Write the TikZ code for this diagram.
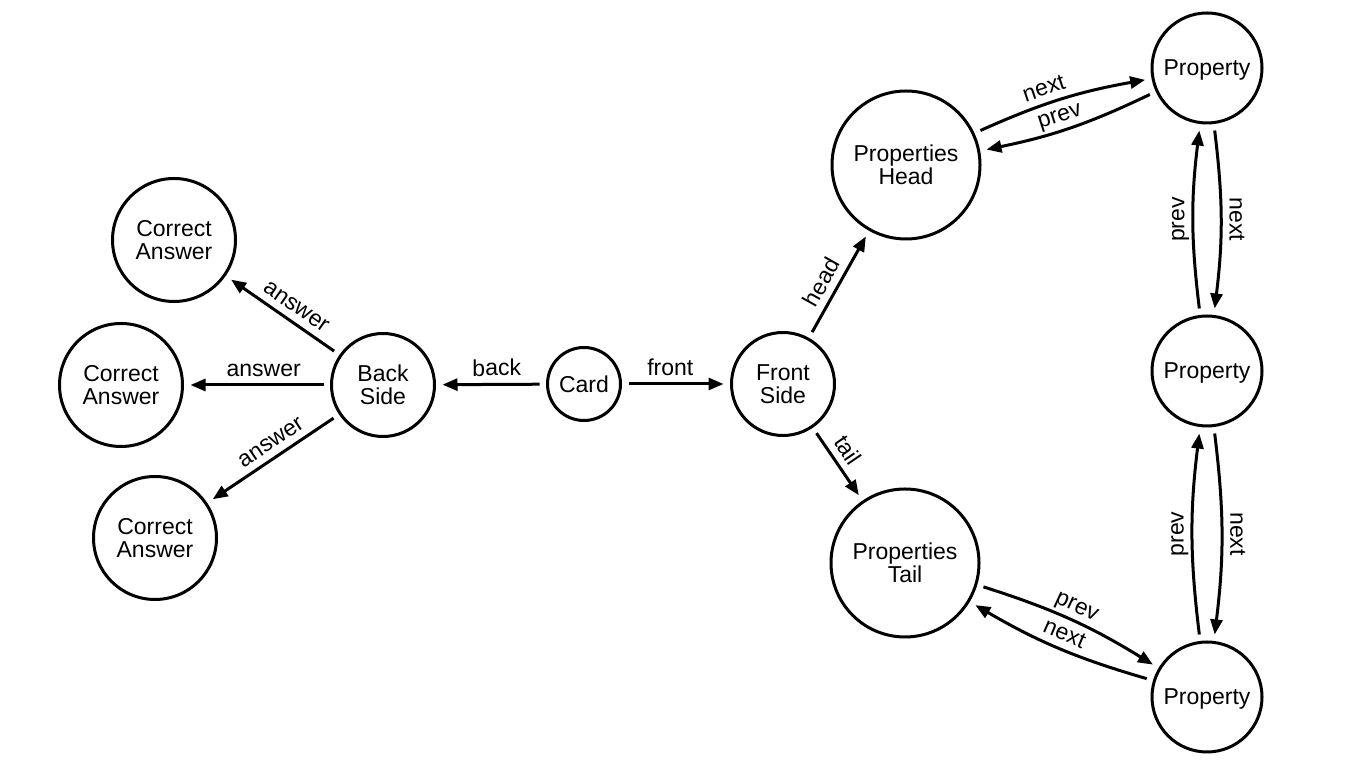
\documentclass[tikz,border=0pt]{standalone}
\usepackage{fontspec}
\setmainfont{Liberation Sans}
\usetikzlibrary{arrows.meta}
\begin{document}
\begin{tikzpicture}[x=0.5pt,y=0.5pt,
  every node/.style={font=\fontsize{11.5pt}{11.5pt}\selectfont},
  ent/.style={circle, draw, line width=1.5pt, inner sep=0pt, outer sep=4pt, align=center, text depth=0pt},
  cardbox/.style={ent, minimum size=36.5pt},
  side/.style={ent, minimum size=51.5pt},
  ans/.style={ent, minimum size=61.5pt},
  big/.style={ent, minimum size=74pt},
  prop/.style={ent, minimum size=55pt},
  rel/.style={line width=1.5pt, -{Triangle[length=7.5pt,width=6pt]}},
  lab/.style={sloped, above, inner sep=3.5pt, text depth=0pt},
  vlab/.style={anchor=south, inner sep=3.5pt, text depth=0pt},
]
\useasboundingbox (0,0) rectangle (1361,765);
\node[cardbox] (card) at (584,381) {Card};
\node[side] (front) at (783,381) {Front\\Side};
\node[side] (back) at (383,380) {Back\\Side};
\node[ans] (ca1) at (174,525) {Correct\\Answer};
\node[ans] (ca2) at (121,380) {Correct\\Answer};
\node[ans] (ca3) at (155,227) {Correct\\Answer};
\node[big] (head) at (906,600) {Properties\\Head};
\node[big] (tail) at (905,202) {Properties\\Tail};
\node[prop] (p1) at (1207,697) {Property};
\node[prop] (p2) at (1207,394) {Property};
\node[prop] (p3) at (1207,68) {Property};

\draw[rel] (card) -- node[lab,pos=0.44]{front} (front);
\draw[rel] (card) -- node[lab,pos=0.44]{back} (back);
\draw[rel] (front) -- node[lab,pos=0.44]{head} (head);
\draw[rel] (front) -- node[lab,pos=0.42]{tail} (tail);
\draw[rel] (back) -- node[lab,pos=0.45]{answer} (ca1);
\draw[rel] (back) -- node[lab,pos=0.45]{answer} (ca2);
\draw[rel] (back) -- node[lab,pos=0.45]{answer} (ca3);

\draw[rel] (head) to[bend left=7] node[lab,pos=0.42]{next} (p1);
\draw[rel] (p1) to[bend left=7] node[lab,pos=0.54]{prev} (head);
\draw[rel] (p1) to[bend left=7] node[vlab,pos=0.5,rotate=-90]{next} (p2);
\draw[rel] (p2) to[bend left=7] node[vlab,pos=0.5,rotate=90]{prev} (p1);
\draw[rel] (p2) to[bend left=7] node[vlab,pos=0.5,rotate=-90]{next} (p3);
\draw[rel] (p3) to[bend left=7] node[vlab,pos=0.5,rotate=90]{prev} (p2);
\draw[rel] (tail) to[bend left=7] node[lab]{prev} (p3);
\draw[rel] (p3) to[bend left=7] node[lab]{next} (tail);
\end{tikzpicture}
\end{document}
